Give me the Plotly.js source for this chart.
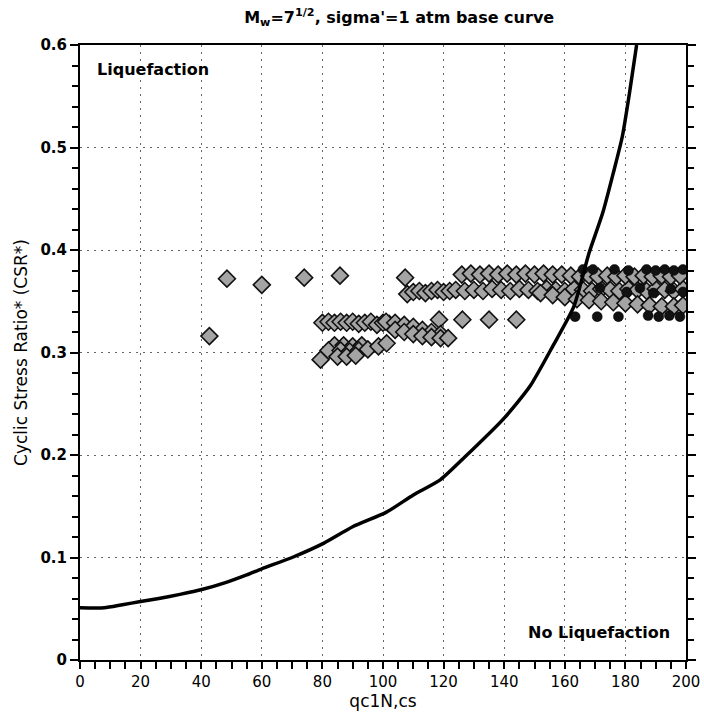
<!DOCTYPE html>
<html>
<head>
<meta charset="utf-8">
<script src="https://cdn.plot.ly/plotly-3.0.1.min.js"></script>
<style>
  html, body { margin: 0; padding: 0; background: #fff; }
  #chart { width: 704px; height: 715px; }
</style>
</head>
<body>
<div id="chart"></div>
<script>
// Base CRR curve (Mw = 7.5, sigma' = 1 atm)
const curveX = [0, 8, 14, 20, 26, 33, 40.5, 48, 55, 60, 70, 80.5, 90, 101, 110, 119, 127, 140, 148.5, 156, 163, 168, 172.5, 176, 179, 181.5, 183.7];
const curveY = [0.051, 0.051, 0.054, 0.057, 0.060, 0.064, 0.069, 0.0755, 0.083, 0.089, 0.100, 0.114, 0.130, 0.144, 0.161, 0.176, 0.198, 0.236, 0.267, 0.306, 0.345, 0.397, 0.436, 0.475, 0.511, 0.556, 0.600];

// CPT soundings plotted as diamonds (qc1N,cs vs CSR*)
const diamondX = [
  42.7, 48.5, 60, 74, 85.8, 107.3, 118.5, 126.2, 135, 144,
  // lower-left group, upper row
  80, 82, 84, 86, 88, 90, 92, 94, 96, 98, 100, 102,
  101, 104, 107, 110, 113, 116, 119,
  104, 107, 110, 113, 116, 119, 121.5,
  // lower-left group, lower rows
  79.4, 84, 87, 90, 93, 82, 86, 89, 92, 95, 85, 88, 91, 98.5, 101.2,
  // middle band
  108, 110, 112, 114, 116, 118, 120, 122, 124, 127, 130, 133, 136, 139, 142, 145, 148, 151, 154, 157, 160, 163, 166, 169, 172, 175, 178, 181, 184, 187, 190, 193, 196, 199,
  // lower right band
  152, 156, 160, 164, 168, 172, 176, 180, 184, 188, 192, 196, 199,
  // upper band
  126, 129, 132, 135, 138, 141, 144, 147, 150, 153, 156, 159, 162, 165, 168, 171, 174, 177, 180, 183, 186, 189, 192, 195, 198
];
const diamondY = [
  0.316, 0.372, 0.366, 0.373, 0.375, 0.373, 0.332, 0.332, 0.332, 0.332,
  0.329, 0.330, 0.329, 0.330, 0.329, 0.330, 0.328, 0.329, 0.330, 0.327, 0.329, 0.328,
  0.330, 0.329, 0.327, 0.325, 0.322, 0.320, 0.318,
  0.322, 0.320, 0.318, 0.316, 0.315, 0.314, 0.314,
  0.293, 0.307, 0.307, 0.306, 0.307, 0.302, 0.302, 0.301, 0.302, 0.303, 0.296, 0.296, 0.297, 0.306, 0.309,
  0.357, 0.359, 0.360, 0.358, 0.360, 0.361, 0.359, 0.360, 0.361, 0.360, 0.361, 0.360, 0.362, 0.361, 0.360, 0.362, 0.361, 0.360, 0.362, 0.361, 0.360, 0.362, 0.361, 0.360, 0.362, 0.361, 0.360, 0.362, 0.361, 0.360, 0.362, 0.361, 0.360, 0.362,
  0.358, 0.356, 0.354, 0.352, 0.351, 0.350, 0.349, 0.348, 0.347, 0.346, 0.345, 0.345, 0.346,
  0.376, 0.377, 0.376, 0.377, 0.376, 0.377, 0.376, 0.377, 0.376, 0.377, 0.376, 0.376, 0.375, 0.374, 0.375, 0.374, 0.375, 0.374, 0.375, 0.374, 0.375, 0.374, 0.375, 0.374, 0.375
];

// Soundings plotted as solid circles
const circleX = [163.4, 170.7, 177.7, 187.5, 191, 194.5, 198,
                 166, 169.3, 176.4, 181, 187, 190, 193, 196, 199,
                 171.6, 180.4, 184.8, 189.2, 195, 199];
const circleY = [0.335, 0.335, 0.335, 0.336, 0.335, 0.336, 0.335,
                 0.381, 0.381, 0.381, 0.380, 0.381, 0.380, 0.381, 0.380, 0.381,
                 0.363, 0.359, 0.363, 0.358, 0.362, 0.359];

const xRange = [0, 200];
const yRange = [0, 0.6];

const W = 704, H = 715;
const M = { l: 80, r: 18, t: 45, b: 55 };
const FONT = 'DejaVu Sans, Verdana, sans-serif';

// data units per screen pixel, used to sit frame ticks just outside the axes
const xPerPx = (xRange[1] - xRange[0]) / (W - M.l - M.r);
const yPerPx = (yRange[1] - yRange[0]) / (H - M.t - M.b);

// frame tick values
const bottomTicks = [], topTicks = [], leftMajor = [], leftMinor = [];
for (let v = 0; v <= 200; v += 5) bottomTicks.push(v);
for (let v = 12.5; v <= 200; v += 12.5) topTicks.push(v);
for (let i = 0; i <= 30; i++) (i % 5 === 0 ? leftMajor : leftMinor).push(+(i * 0.02).toFixed(2));

function tickTrace(xs, ys, symbol, size) {
  return {
    x: xs, y: ys, type: 'scatter', mode: 'markers', cliponaxis: false,
    marker: { symbol, size, color: '#000', line: { color: '#000', width: 2 } },
    hoverinfo: 'skip', showlegend: false
  };
}

const traces = [
  {
    x: diamondX, y: diamondY, type: 'scatter', mode: 'markers',
    marker: { symbol: 'diamond', size: 13, color: '#a4a4a4', line: { color: '#111', width: 1.6 } },
    hoverinfo: 'x+y', showlegend: false
  },
  {
    x: circleX, y: circleY, type: 'scatter', mode: 'markers',
    marker: { symbol: 'circle', size: 10, color: '#111', line: { color: '#000', width: 0.5 } },
    hoverinfo: 'x+y', showlegend: false
  },
  {
    x: curveX, y: curveY, type: 'scatter', mode: 'lines',
    line: { color: '#000', width: 3.5, shape: 'spline', smoothing: 0.6 },
    hoverinfo: 'skip', showlegend: false
  },
  // frame ticks: bottom (7 px down), top (5 px up), left (8 px / 6 px out)
  tickTrace(bottomTicks, bottomTicks.map(() => -3.5 * yPerPx), 'line-ns', 7),
  tickTrace(topTicks, topTicks.map(() => yRange[1] + 2.5 * yPerPx), 'line-ns', 5),
  tickTrace(leftMajor.map(() => -4 * xPerPx), leftMajor, 'line-ew', 8),
  tickTrace(leftMinor.map(() => -3 * xPerPx), leftMinor, 'line-ew', 6)
];

const layout = {
  width: W, height: H,
  margin: M,
  paper_bgcolor: '#fff', plot_bgcolor: '#fff',
  font: { family: FONT, color: '#000' },
  title: {
    text: "M<sub>w</sub>=7<sup>1/2</sup>, sigma'=1 atm base curve",
    font: { family: FONT, size: 16, weight: 'bold', color: '#000' },
    x: 0.567, xanchor: 'center', y: 0.976, yanchor: 'middle'
  },
  xaxis: {
    range: xRange, dtick: 20, tick0: 0,
    showline: true, linecolor: '#000', linewidth: 2, mirror: true,
    ticks: 'outside', ticklen: 7, tickwidth: 2, tickcolor: '#000',
    minor: { dtick: 5, ticks: 'outside', ticklen: 7, tickwidth: 2, tickcolor: '#000', showgrid: false },
    showgrid: true, gridcolor: '#666', gridwidth: 1, griddash: '2px,5px',
    zeroline: false,
    tickfont: { family: FONT, size: 15 },
    title: { text: 'qc1N,cs', font: { family: FONT, size: 17 }, standoff: 4 }
  },
  yaxis: {
    range: yRange, dtick: 0.1, tick0: 0,
    showline: true, linecolor: '#000', linewidth: 2, mirror: 'ticks',
    ticks: 'outside', ticklen: 8, tickwidth: 2, tickcolor: '#000',
    minor: { dtick: 0.02, ticks: 'outside', ticklen: 6, tickwidth: 2, tickcolor: '#000', showgrid: false },
    showgrid: true, gridcolor: '#666', gridwidth: 1, griddash: '2px,5px',
    zeroline: false,
    tickfont: { family: FONT, size: 15, weight: 'bold' },
    title: { text: 'Cyclic Stress Ratio* (CSR*)', font: { family: FONT, size: 17 }, standoff: 8 }
  },
  annotations: [
    { x: 5, y: 0.576, xref: 'x', yref: 'y', text: 'Liquefaction', showarrow: false,
      xanchor: 'left', yanchor: 'middle', font: { family: FONT, size: 16, weight: 'bold' } },
    { x: 195.5, y: 0.027, xref: 'x', yref: 'y', text: 'No Liquefaction', showarrow: false,
      xanchor: 'right', yanchor: 'middle', font: { family: FONT, size: 16, weight: 'bold' } }
  ]
};

Plotly.newPlot('chart', traces, layout, { displayModeBar: false });
</script>
</body>
</html>
